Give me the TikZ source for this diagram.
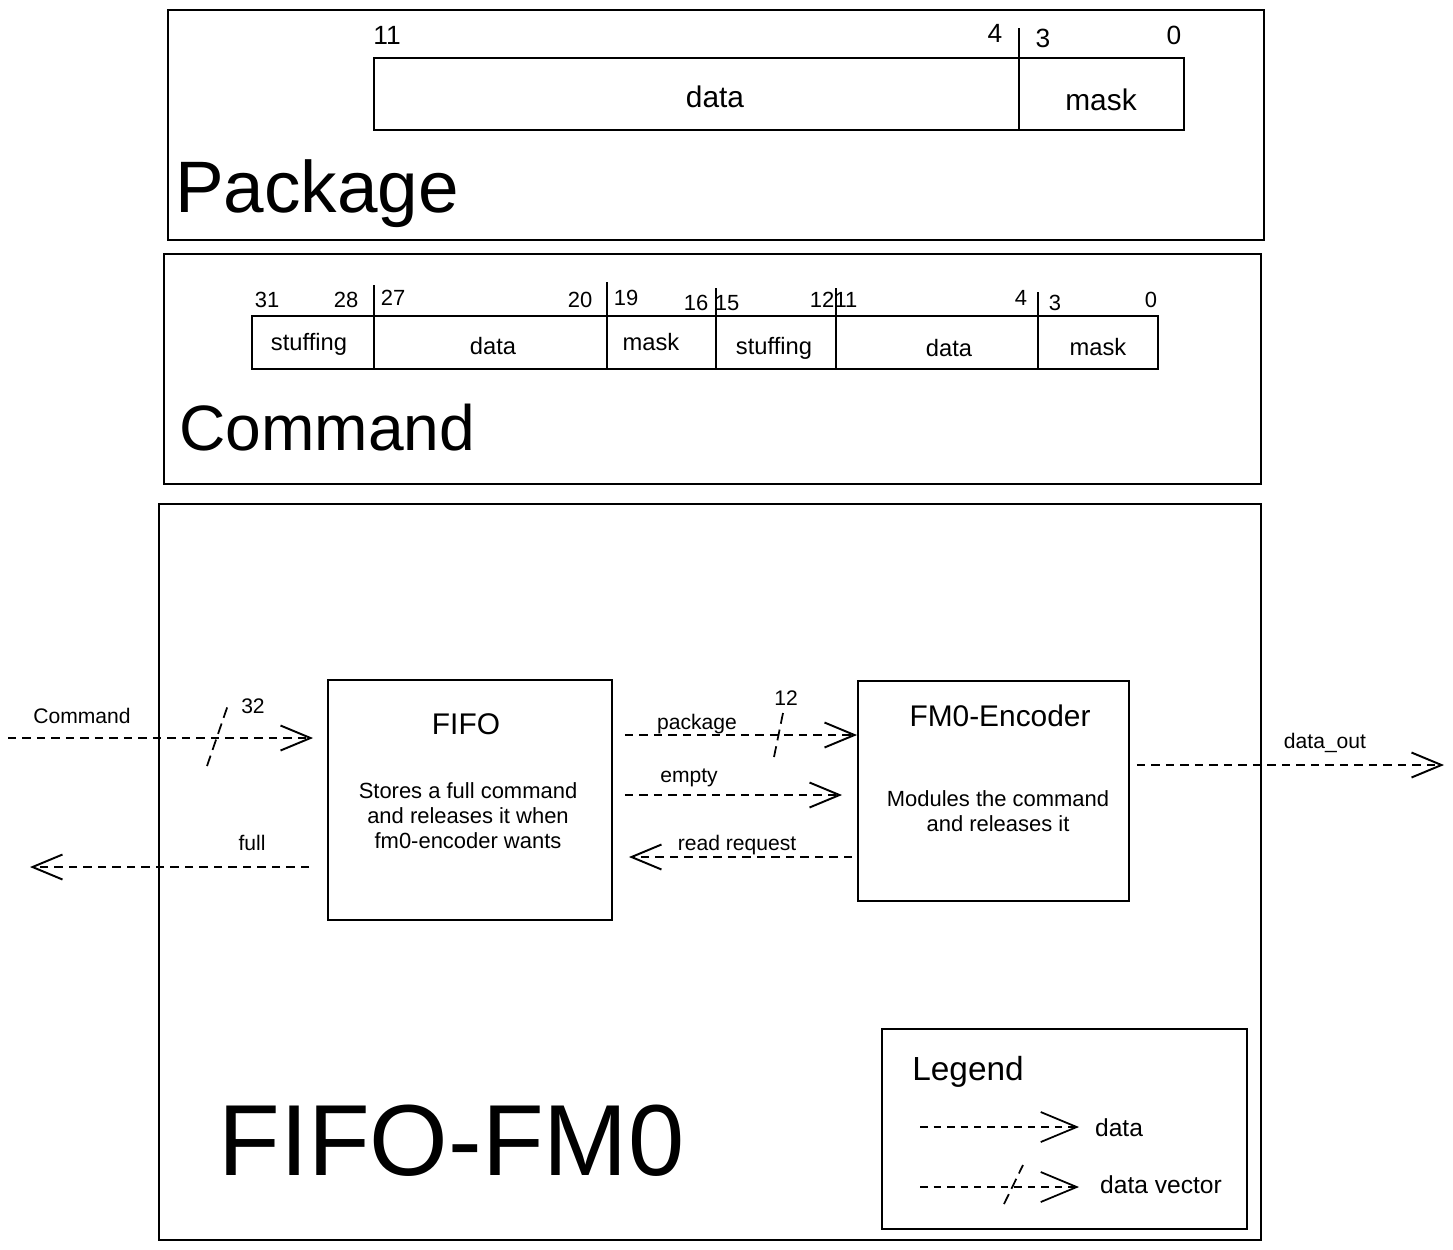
\documentclass[tikz,border=0pt]{standalone}
\usepackage{fontspec}
\setmainfont{Liberation Sans}
\usetikzlibrary{arrows.meta}
\begin{document}
\begin{tikzpicture}[x=0.02cm,y=-0.02cm,
  framebox/.style={line width=0.8pt},
  block/.style={draw, line width=1.1pt, inner sep=0pt, outer sep=0pt},
  fieldbox/.style={line width=1pt},
  divider/.style={line width=0.9pt},
  dataarrow/.style={line width=1.1pt, dash pattern=on 0.17cm off 0.12cm,
    -{Straight Barb[length=0.6cm,width=0.5cm,line width=1.1pt]}},
  legarrow/.style={line width=1pt, dash pattern=on 0.15cm off 0.12cm,
    -{Straight Barb[length=0.72cm,width=0.6cm,line width=1pt]}},
  slash/.style={line width=1pt, dash pattern=on 0.22cm off 0.12cm},
  bitnum/.style={inner sep=0pt, font=\fontsize{12.5}{14}\selectfont},
  pkgnum/.style={inner sep=0pt, font=\fontsize{15}{17}\selectfont},
  pkgcell/.style={inner sep=0pt, font=\fontsize{17}{20}\selectfont},
  cmdcell/.style={inner sep=0pt, font=\fontsize{13.5}{16}\selectfont},
  bigtitle/.style={inner sep=0pt, anchor=base west, font=\fontsize{#1}{48}\selectfont},
  hugetitle/.style={inner sep=0pt, anchor=base west, font=\fontsize{57.5}{64}\selectfont},
  blocktitle/.style={inner sep=0pt, font=\fontsize{17}{20}\selectfont},
  blockdesc/.style={inner sep=0pt, align=center, font=\fontsize{12.5}{14.2}\selectfont},
  arrlbl/.style={inner sep=0pt, font=\fontsize{12}{14}\selectfont},
  leglbl/.style={inner sep=0pt, font=\fontsize{14}{16}\selectfont}
]
\useasboundingbox[fill=white] (0,0) rectangle (1453,1249);

% ---------- Package ----------
\draw[framebox] (168,10) rectangle (1264,240);
\draw[fieldbox] (374,58) rectangle (1184,130);
\draw[divider] (1019,28) -- (1019,130);
\node[pkgnum] (p11) at (387,35) {11};
\node[pkgnum] (p4) at (995,33) {4};
\node[pkgnum] (p3) at (1043,38) {3};
\node[pkgnum] (p0) at (1174,35) {0};
\node[pkgcell] (pdata) at (715,97) {data};
\node[pkgcell] (pmask) at (1101,100) {mask};
\node[bigtitle=41.5] (ptitle) at (175,212) {Package};

% ---------- Command ----------
\draw[framebox] (164,254) rectangle (1261,484);
\draw[fieldbox] (252,316) rectangle (1158,369);
\draw[divider] (374,285) -- (374,369);
\draw[divider] (607,282) -- (607,369);
\draw[divider] (716,288) -- (716,369);
\draw[divider] (836,288) -- (836,369);
\draw[divider] (1038,292) -- (1038,369);
\node[bitnum] (c31) at (267,300) {31};
\node[bitnum] (c28) at (346,300) {28};
\node[bitnum] (c27) at (393,298) {27};
\node[bitnum] (c20) at (580,300) {20};
\node[bitnum] (c19) at (626,298) {19};
\node[bitnum] (c16) at (696,303) {16};
\node[bitnum] (c15) at (727,303) {15};
\node[bitnum] (c12) at (822,300) {12};
\node[bitnum] (c11) at (846,300) {11};
\node[bitnum] (c4) at (1021,298) {4};
\node[bitnum] (c3) at (1055,303) {3};
\node[bitnum] (c0) at (1151,300) {0};
\node[cmdcell] (cs1) at (309,344) {stuffing};
\node[cmdcell] (cd1) at (493,346) {data};
\node[cmdcell] (cm1) at (651,342) {mask};
\node[cmdcell] (cs2) at (774,348) {stuffing};
\node[cmdcell] (cd2) at (949,348) {data};
\node[cmdcell] (cm2) at (1098,347) {mask};
\node[bigtitle=36.5] (ctitle) at (179,450) {Command};

% ---------- FIFO-FM0 ----------
\draw[framebox] (159,504) rectangle (1261,1240);
\node[block, minimum width=5.68cm, minimum height=4.8cm] (fifo) at (470,800) {};
\node[block, minimum width=5.42cm, minimum height=4.4cm] (enc) at (993.5,791) {};
\node[blocktitle] (fifot) at (466,724) {FIFO};
\node[blockdesc] (fifod) at (468,816) {Stores a full command\\and releases it when\\fm0-encoder wants};
\node[blocktitle] (enct) at (1000,716) {FM0-Encoder};
\node[blockdesc] (encd) at (998,811) {Modules the command\\and releases it};
\node[hugetitle] (ftitle) at (218,1175) {FIFO-FM0};

% coordinates of free ends and levels
\coordinate (cmdin) at (8,738);
\coordinate (fullout) at (30,867);
\coordinate (ypk) at (0,735);
\coordinate (yem) at (0,795);
\coordinate (yrr) at (0,857);
\coordinate (ydo) at (0,765);
\coordinate (dout) at (1444,765);

% connectors
\draw[dataarrow, shorten >=0.3cm] (cmdin) -- (cmdin -| fifo.west);
\draw[slash] (207,766) -- (229,702);
\node[arrlbl] (lcmd) at (82,716) {Command};
\node[arrlbl] (l32) at (253,706) {32};

\draw[dataarrow, shorten <=0.38cm] (fifo.west |- fullout) -- (fullout);
\node[arrlbl] (lfull) at (252,843) {full};

\draw[dataarrow, shorten <=0.26cm, shorten >=0.02cm] (fifo.east |- ypk) -- (enc.west |- ypk);
\draw[slash] (774,757) -- (783,713);
\node[arrlbl] (lpkg) at (697,724) {package};
\node[arrlbl] (l12) at (786,698) {12};

\draw[dataarrow, shorten <=0.26cm, shorten >=0.32cm] (fifo.east |- yem) -- (enc.west |- yem);
\node[arrlbl] (lempty) at (689,778) {empty};

\draw[dataarrow, shorten <=0.12cm, shorten >=0.34cm] (enc.west |- yrr) -- (fifo.east |- yrr);
\node[arrlbl] (lrr) at (737,845) {read request};

\draw[dataarrow, shorten <=0.16cm] (enc.east |- ydo) -- (dout);
\node[arrlbl] (ldo) at (1325,743) {data\_out};

% ---------- Legend ----------
\node[block, line width=1pt, minimum width=7.3cm, minimum height=4cm] (legend) at (1064.5,1129) {};
\node[inner sep=0pt, anchor=base west, font=\fontsize{19}{22}\selectfont] (legt) at (912,1080) {Legend};
\coordinate (la1) at (920,1127);
\coordinate (lb1) at (1079,1127);
\coordinate (la2) at (920,1187);
\coordinate (lb2) at (1079,1187);
\draw[legarrow] (la1) -- (lb1);
\draw[legarrow] (la2) -- (lb2);
\draw[slash] (1004,1204) -- (1023,1165);
\node[leglbl] (lgd) at (1119,1128) {data};
\node[leglbl] (lgv) at (1161,1185) {data vector};
\end{tikzpicture}
\end{document}
